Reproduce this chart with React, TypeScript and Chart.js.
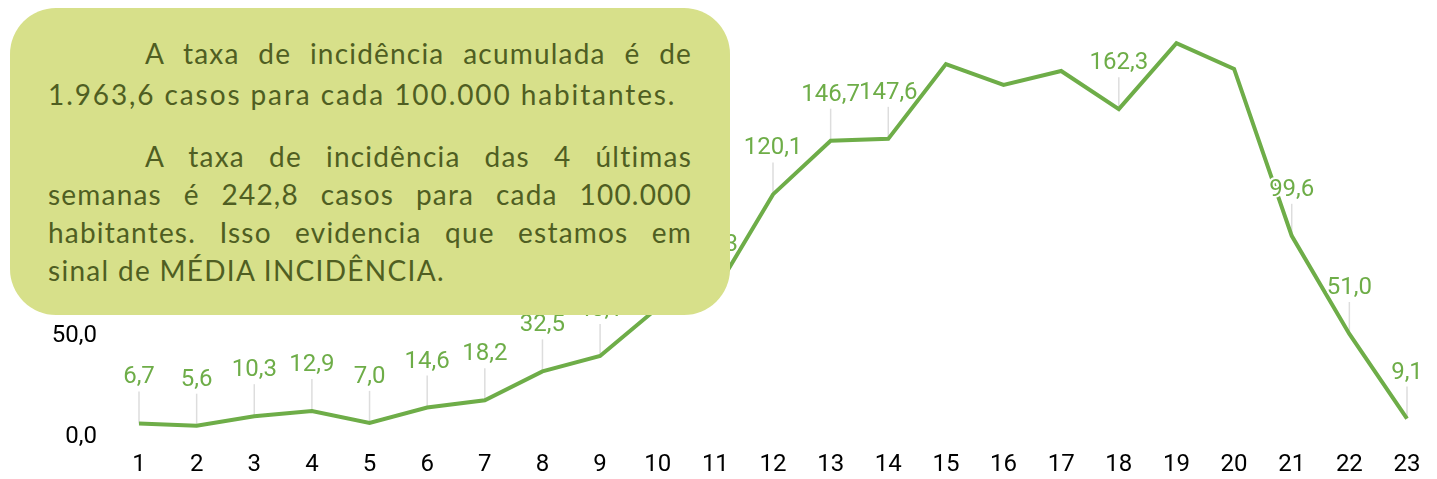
import React, { useEffect, useRef } from "react";
import { Chart, registerables } from "chart.js";

Chart.register(...registerables);

// ---- data ----
const weeks = ["1","2","3","4","5","6","7","8","9","10","11","12","13","14","15","16","17","18","19","20","21","22","23"];
const incidence = [6.7, 5.6, 10.3, 12.9, 7.0, 14.6, 18.2, 32.5, 40.1, 64.0, 72.3, 120.1, 146.7, 147.6, 184.6, 174.3, 181.2, 162.3, 195.0, 182.2, 99.6, 51.0, 9.1];
const showLabel = [true, true, true, true, true, true, true, true, true, true, true, true, true, true, false, false, false, true, false, false, true, true, true];
const yMin = 0;
const yMax = 200;
const yStep = 50;

const noteLines = [
  { text: "A taxa de incidência acumulada é de", justify: true, indent: true, center: 53, spacing: 1.2 },
  { text: "1.963,6 casos para cada 100.000 habitantes.", justify: false, indent: false, center: 94, spacing: 1.9 },
  { text: "A taxa de incidência das 4 últimas", justify: true, indent: true, center: 156, spacing: 1.2 },
  { text: "semanas é 242,8 casos para cada 100.000", justify: true, indent: false, center: 194, spacing: 1.2 },
  { text: "habitantes. Isso evidencia que estamos em", justify: true, indent: false, center: 232, spacing: 1.2 },
  { text: "sinal de MÉDIA INCIDÊNCIA.", justify: false, indent: false, center: 270, spacing: 1.3 },
];

const fmt = (v: number) => v.toFixed(1).replace(".", ",");

const GREEN = "#6EAD48";

const leaderPlugin = {
  id: "leaders",
  beforeDatasetsDraw(chart: any) {
    const ctx = chart.ctx;
    const meta = chart.getDatasetMeta(0);
    ctx.save();
    ctx.strokeStyle = "#DDDDDD";
    ctx.lineWidth = 1.5;
    meta.data.forEach((pt: any, i: number) => {
      if (!showLabel[i]) return;
      ctx.beginPath();
      ctx.moveTo(pt.x, pt.y);
      ctx.lineTo(pt.x, pt.y - 32);
      ctx.stroke();
    });
    ctx.restore();
  },
  afterDatasetsDraw(chart: any) {
    const ctx = chart.ctx;
    const meta = chart.getDatasetMeta(0);
    ctx.save();
    ctx.font = "24px Roboto";
    ctx.textAlign = "center";
    ctx.textBaseline = "middle";
    ctx.lineJoin = "round";
    meta.data.forEach((pt: any, i: number) => {
      if (!showLabel[i]) return;
      const s = fmt(incidence[i]);
      ctx.strokeStyle = "#FFFFFF";
      ctx.lineWidth = 4;
      ctx.strokeText(s, pt.x, pt.y - 46);
      ctx.fillStyle = GREEN;
      ctx.fillText(s, pt.x, pt.y - 46);
    });
    ctx.restore();
  },
};

export default function App() {
  const ref = useRef<HTMLCanvasElement | null>(null);
  useEffect(() => {
    if (!ref.current) return;
    const chart = new Chart(ref.current, {
      type: "line",
      data: {
        labels: weeks,
        datasets: [
          {
            data: incidence,
            borderColor: GREEN,
            borderWidth: 4,
            pointRadius: 0,
            tension: 0,
            fill: false,
          },
        ],
      },
      options: {
        animation: false,
        responsive: false,
        maintainAspectRatio: false,
        layout: { padding: { top: 33, right: 30, left: 0, bottom: 0 } },
        plugins: { legend: { display: false }, tooltip: { enabled: false } },
        scales: {
          x: {
            offset: false,
            grid: { display: false, drawTicks: false },
            border: { display: false },
            ticks: { color: "#000000", font: { family: "Roboto", size: 24 }, padding: 14, maxRotation: 0, autoSkip: false },
            afterFit: (s: any) => { s.height = 42; },
          },
          y: {
            min: yMin,
            max: yMax,
            grid: { display: false, drawTicks: false },
            border: { display: false },
            ticks: { stepSize: yStep, color: "#000000", font: { family: "Roboto", size: 24 }, padding: 42, callback: (v: any) => fmt(Number(v)) },
            afterFit: (s: any) => { s.width = 139; s.paddingTop = 14; s.paddingBottom = 14; },
          },
        },
      },
      plugins: [leaderPlugin],
    });
    return () => chart.destroy();
  }, []);

  return (
    <div style={{ position: "fixed", left: 0, top: 0, width: 1437, height: 479, background: "#FFFFFF" }}>
      <canvas ref={ref} width={1437} height={479} style={{ position: "absolute", left: 0, top: 0 }} />
      <div
        style={{
          position: "absolute",
          left: 10,
          top: 8,
          width: 720,
          height: 307,
          background: "#D7E08A",
          borderRadius: 46,
        }}
      >
        {noteLines.map((l, i) => (
          <div
            key={i}
            style={{
              position: "absolute",
              left: 38,
              width: 644,
              top: l.center - 8 - 19,
              height: 38,
              lineHeight: "38px",
              fontFamily: "Lato",
              fontSize: 28,
              color: "#4F5E22",
              letterSpacing: l.spacing,
              paddingLeft: l.indent ? 97 : 0,
              boxSizing: "border-box",
              textAlign: l.justify ? "justify" : "left",
              textAlignLast: l.justify ? "justify" : "left",
              whiteSpace: "nowrap",
            } as any}
          >
            {l.text}
          </div>
        ))}
      </div>
    </div>
  );
}
